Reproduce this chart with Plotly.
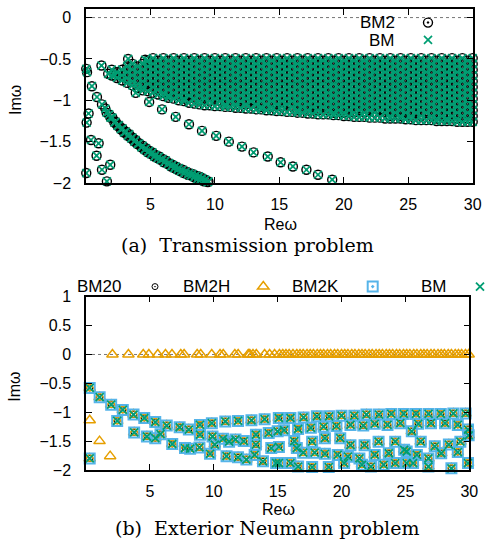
import plotly.graph_objects as go

# ================= (a) Transmission problem =================
lead_x = [0.02, 0.08, 0.20, 0.05, 0.46, 0.85, 0.39, 0.98, 0.82, 1.24, 1.88, 1.62, 0.02, 1.20, 1.72, 2.24, 3.27, 4.59]
lead_y = [-0.62, -0.66, -1.16, -1.27, -0.83, -0.96, -1.48, -1.52, -1.67, -1.84, -1.78, -1.98, -1.88, -0.58, -0.68, -0.70, -0.50, -0.51]

diag_x = [1.24, 1.5, 1.8, 2.05, 2.3, 2.55, 2.83, 3.1, 3.35, 3.6, 3.85, 4.12, 4.4, 4.65, 4.9, 5.15, 5.4,
          5.67, 5.95, 6.2, 6.45, 6.7, 6.95, 7.2, 7.5, 7.75, 8.0, 8.25, 8.5, 8.76, 9.0, 9.25, 9.5]
diag_y = [-1.05, -1.10, -1.17, -1.21, -1.26, -1.30, -1.34, -1.38, -1.41, -1.45, -1.48, -1.52, -1.55, -1.58,
          -1.61, -1.63, -1.66, -1.68, -1.71, -1.73, -1.76, -1.78, -1.80, -1.82, -1.84, -1.86, -1.88, -1.89,
          -1.91, -1.92, -1.94, -1.96, -1.98]
diag2_x = [1.6, 1.9, 2.2, 2.45, 2.7, 2.95, 3.25, 3.5, 3.75, 4.0, 4.3, 4.55, 4.8, 5.05, 5.3, 5.55, 5.8, 6.05,
           6.35, 6.6, 6.85, 7.1, 7.35, 7.6, 7.9, 8.15, 8.4, 8.65, 8.9, 9.15, 9.45]
diag2_y = [-1.15, -1.21, -1.27, -1.31, -1.35, -1.39, -1.43, -1.46, -1.50, -1.53, -1.57, -1.60, -1.63, -1.65,
           -1.68, -1.70, -1.72, -1.75, -1.77, -1.80, -1.82, -1.84, -1.86, -1.88, -1.90, -1.91, -1.93, -1.95,
           -1.96, -1.98, -1.99]

slow_x = [3.86, 4.9, 5.9, 6.96, 7.99, 9.0, 10.1, 11.08, 12.1, 13.0, 14.1, 15.1, 16.05, 17.1, 18.0, 19.1]
slow_y = [-0.91, -1.02, -1.11, -1.20, -1.29, -1.37, -1.43, -1.50, -1.56, -1.63, -1.68, -1.75, -1.80, -1.84, -1.90, -1.96]

# dense band of resonances, listed column by column (Re value, then its Im values)
band_x = [2.0, 2.4, 2.8, 3.2, 3.6, 4.0, 4.4, 4.8, 5.2, 5.6, 6.0, 6.4, 6.8, 7.2, 7.6, 8.0, 8.4, 8.8, 9.2, 9.6,
          10.0, 10.4, 10.8, 11.2, 11.6, 12.0, 12.4, 12.8, 13.2, 13.6, 14.0, 14.4, 14.8, 15.2, 15.6, 16.0,
          16.4, 16.8, 17.2, 17.6, 18.0, 18.4, 18.8, 19.2, 19.6, 20.0, 20.4, 20.8, 21.2, 21.6, 22.0, 22.4,
          22.8, 23.2, 23.6, 24.0, 24.4, 24.8, 25.2, 25.6, 26.0, 26.4, 26.8, 27.2, 27.6, 28.0, 28.4, 28.8,
          29.2, 29.6, 30.0]
band_y = [
    [-0.63, -0.70],
    [-0.66, -0.73],
    [-0.63, -0.70, -0.76],
    [-0.59, -0.66, -0.73, -0.79],
    [-0.56, -0.63, -0.70, -0.77, -0.82],
    [-0.59, -0.66, -0.73, -0.80, -0.85],
    [-0.56, -0.63, -0.70, -0.77, -0.84, -0.88],
    [-0.52, -0.59, -0.66, -0.73, -0.80, -0.89],
    [-0.49, -0.56, -0.63, -0.70, -0.77, -0.84, -0.91],
    [-0.52, -0.59, -0.66, -0.73, -0.80, -0.87, -0.93],
    [-0.49, -0.56, -0.63, -0.70, -0.77, -0.84, -0.91, -0.95],
    [-0.52, -0.59, -0.66, -0.73, -0.80, -0.87, -0.94, -0.97],
    [-0.49, -0.56, -0.63, -0.70, -0.77, -0.84, -0.91, -0.98],
    [-0.52, -0.59, -0.66, -0.73, -0.80, -0.87, -0.94, -1.00],
    [-0.49, -0.56, -0.63, -0.70, -0.77, -0.84, -0.91, -0.98, -1.01],
    [-0.52, -0.59, -0.66, -0.73, -0.80, -0.87, -0.94, -1.03],
    [-0.49, -0.56, -0.63, -0.70, -0.77, -0.84, -0.91, -0.98, -1.04],
    [-0.52, -0.59, -0.66, -0.73, -0.80, -0.87, -0.94, -1.01, -1.05],
    [-0.49, -0.56, -0.63, -0.70, -0.77, -0.84, -0.91, -0.98, -1.06],
    [-0.52, -0.59, -0.66, -0.73, -0.80, -0.87, -0.94, -1.01, -1.06],
    [-0.49, -0.56, -0.63, -0.70, -0.77, -0.84, -0.91, -0.98, -1.07],
    [-0.52, -0.59, -0.66, -0.73, -0.80, -0.87, -0.94, -1.01, -1.07],
    [-0.49, -0.56, -0.63, -0.70, -0.77, -0.84, -0.91, -0.98, -1.05, -1.08],
    [-0.52, -0.59, -0.66, -0.73, -0.80, -0.87, -0.94, -1.01, -1.08],
    [-0.49, -0.56, -0.63, -0.70, -0.77, -0.84, -0.91, -0.98, -1.05, -1.09],
    [-0.52, -0.59, -0.66, -0.73, -0.80, -0.87, -0.94, -1.01, -1.09],
    [-0.49, -0.56, -0.63, -0.70, -0.77, -0.84, -0.91, -0.98, -1.05, -1.10],
    [-0.52, -0.59, -0.66, -0.73, -0.80, -0.87, -0.94, -1.01, -1.10],
    [-0.49, -0.56, -0.63, -0.70, -0.77, -0.84, -0.91, -0.98, -1.05, -1.11],
    [-0.52, -0.59, -0.66, -0.73, -0.80, -0.87, -0.94, -1.01, -1.08, -1.11],
    [-0.49, -0.56, -0.63, -0.70, -0.77, -0.84, -0.91, -0.98, -1.05, -1.12],
    [-0.52, -0.59, -0.66, -0.73, -0.80, -0.87, -0.94, -1.01, -1.08, -1.12],
    [-0.49, -0.56, -0.63, -0.70, -0.77, -0.84, -0.91, -0.98, -1.05, -1.13],
    [-0.52, -0.59, -0.66, -0.73, -0.80, -0.87, -0.94, -1.01, -1.08, -1.13],
    [-0.49, -0.56, -0.63, -0.70, -0.77, -0.84, -0.91, -0.98, -1.05, -1.14],
    [-0.52, -0.59, -0.66, -0.73, -0.80, -0.87, -0.94, -1.01, -1.08, -1.14],
    [-0.49, -0.56, -0.63, -0.70, -0.77, -0.84, -0.91, -0.98, -1.05, -1.12, -1.15],
    [-0.52, -0.59, -0.66, -0.73, -0.80, -0.87, -0.94, -1.01, -1.08, -1.15],
    [-0.49, -0.56, -0.63, -0.70, -0.77, -0.84, -0.91, -0.98, -1.05, -1.12, -1.16],
    [-0.52, -0.59, -0.66, -0.73, -0.80, -0.87, -0.94, -1.01, -1.08, -1.16],
    [-0.49, -0.56, -0.63, -0.70, -0.77, -0.84, -0.91, -0.98, -1.05, -1.12, -1.17],
    [-0.52, -0.59, -0.66, -0.73, -0.80, -0.87, -0.94, -1.01, -1.08, -1.17],
    [-0.49, -0.56, -0.63, -0.70, -0.77, -0.84, -0.91, -0.98, -1.05, -1.12, -1.17],
    [-0.52, -0.59, -0.66, -0.73, -0.80, -0.87, -0.94, -1.01, -1.08, -1.15, -1.18],
    [-0.49, -0.56, -0.63, -0.70, -0.77, -0.84, -0.91, -0.98, -1.05, -1.12, -1.18],
    [-0.52, -0.59, -0.66, -0.73, -0.80, -0.87, -0.94, -1.01, -1.08, -1.15, -1.19],
    [-0.49, -0.56, -0.63, -0.70, -0.77, -0.84, -0.91, -0.98, -1.05, -1.12, -1.19],
    [-0.52, -0.59, -0.66, -0.73, -0.80, -0.87, -0.94, -1.01, -1.08, -1.15, -1.20],
    [-0.49, -0.56, -0.63, -0.70, -0.77, -0.84, -0.91, -0.98, -1.05, -1.12, -1.20],
    [-0.52, -0.59, -0.66, -0.73, -0.80, -0.87, -0.94, -1.01, -1.08, -1.15, -1.20],
    [-0.49, -0.56, -0.63, -0.70, -0.77, -0.84, -0.91, -0.98, -1.05, -1.12, -1.21],
    [-0.52, -0.59, -0.66, -0.73, -0.80, -0.87, -0.94, -1.01, -1.08, -1.15, -1.21],
    [-0.49, -0.56, -0.63, -0.70, -0.77, -0.84, -0.91, -0.98, -1.05, -1.12, -1.21],
    [-0.52, -0.59, -0.66, -0.73, -0.80, -0.87, -0.94, -1.01, -1.08, -1.15, -1.22],
    [-0.49, -0.56, -0.63, -0.70, -0.77, -0.84, -0.91, -0.98, -1.05, -1.12, -1.19, -1.22],
    [-0.52, -0.59, -0.66, -0.73, -0.80, -0.87, -0.94, -1.01, -1.08, -1.15, -1.22],
    [-0.49, -0.56, -0.63, -0.70, -0.77, -0.84, -0.91, -0.98, -1.05, -1.12, -1.19, -1.22],
    [-0.52, -0.59, -0.66, -0.73, -0.80, -0.87, -0.94, -1.01, -1.08, -1.15, -1.23],
    [-0.49, -0.56, -0.63, -0.70, -0.77, -0.84, -0.91, -0.98, -1.05, -1.12, -1.19, -1.23],
    [-0.52, -0.59, -0.66, -0.73, -0.80, -0.87, -0.94, -1.01, -1.08, -1.15, -1.24],
    [-0.49, -0.56, -0.63, -0.70, -0.77, -0.84, -0.91, -0.98, -1.05, -1.12, -1.19, -1.24],
    [-0.52, -0.59, -0.66, -0.73, -0.80, -0.87, -0.94, -1.01, -1.08, -1.15, -1.24],
    [-0.49, -0.56, -0.63, -0.70, -0.77, -0.84, -0.91, -0.98, -1.05, -1.12, -1.19, -1.24],
    [-0.52, -0.59, -0.66, -0.73, -0.80, -0.87, -0.94, -1.01, -1.08, -1.15, -1.22, -1.25],
    [-0.49, -0.56, -0.63, -0.70, -0.77, -0.84, -0.91, -0.98, -1.05, -1.12, -1.19, -1.25],
    [-0.52, -0.59, -0.66, -0.73, -0.80, -0.87, -0.94, -1.01, -1.08, -1.15, -1.22, -1.25],
    [-0.49, -0.56, -0.63, -0.70, -0.77, -0.84, -0.91, -0.98, -1.05, -1.12, -1.19, -1.25],
    [-0.52, -0.59, -0.66, -0.73, -0.80, -0.87, -0.94, -1.01, -1.08, -1.15, -1.22, -1.26],
    [-0.49, -0.56, -0.63, -0.70, -0.77, -0.84, -0.91, -0.98, -1.05, -1.12, -1.19, -1.26],
    [-0.52, -0.59, -0.66, -0.73, -0.80, -0.87, -0.94, -1.01, -1.08, -1.15, -1.22, -1.26],
    [-0.49, -0.56, -0.63, -0.70, -0.77, -0.84, -0.91, -0.98, -1.05, -1.12, -1.19, -1.26],
]

# ================= (b) Exterior Neumann problem =================
up_x = [0.29, 1.07, 1.97, 2.88, 3.72, 4.56, 5.42, 6.32, 7.33, 8.05, 8.92, 9.85, 10.9, 11.9, 12.95, 13.98,
        15.09, 16.0, 17.03, 18.07, 19.03, 20.0, 21.0, 21.95, 22.93, 23.89, 24.87, 25.83, 26.81, 27.77, 28.75, 29.71]
up_y = [-0.58, -0.74, -0.87, -0.96, -1.04, -1.10, -1.17, -1.23, -1.26, -1.30, -1.22, -1.19, -1.16, -1.15, -1.14,
        -1.12, -1.10, -1.10, -1.09, -1.07, -1.07, -1.06, -1.06, -1.04, -1.04, -1.03, -1.03, -1.03, -1.03, -1.03,
        -1.02, -1.02]
low_x = [0.29, 2.44, 3.77, 4.77, 5.42, 5.83, 6.75, 7.75, 8.15, 8.88, 8.92, 9.71, 9.9, 10.08, 10.72, 11.0, 11.2,
         11.7, 11.9, 12.35, 12.55, 13.2, 13.3, 13.3, 13.85, 14.3, 14.5, 14.88, 15.0, 16.3]
low_y = [-1.80, -1.15, -1.35, -1.42, -1.45, -1.38, -1.55, -1.62, -1.63, -1.61, -1.39, -1.72, -1.42, -1.56, -1.46,
         -1.76, -1.51, -1.47, -1.78, -1.50, -1.82, -1.74, -1.39, -1.56, -1.85, -1.36, -1.62, -1.88, -1.33, -1.50]
r2_x = [15.5, 16.6, 17.6, 18.6, 19.6, 20.7, 21.7, 22.6, 23.6, 24.6, 25.5, 26.0, 27.0, 28.1, 29.1, 29.9]
r2_y = [-1.31, -1.29, -1.27, -1.25, -1.24, -1.22, -1.23, -1.20, -1.22, -1.19, -1.33, -1.20, -1.19, -1.19, -1.22, -1.30]
r3_x = [17.7, 18.7, 19.9, 20.7, 21.8, 22.9, 24.2, 25.1, 26.2, 27.3, 28.4, 29.3, 29.95]
r3_y = [-1.51, -1.45, -1.45, -1.57, -1.57, -1.51, -1.51, -1.68, -1.51, -1.59, -1.56, -1.51, -1.40]
r4_x = [15.1, 16.5, 17.0, 17.9, 18.7, 19.7, 20.5, 21.4, 22.6, 23.7, 24.9, 25.9, 26.8, 27.8, 29.1]
r4_y = [-1.60, -1.62, -1.70, -1.70, -1.72, -1.74, -1.77, -1.80, -1.74, -1.71, -1.65, -1.74, -1.80, -1.71, -1.69]
r5_x = [15.1, 16.0, 16.6, 17.7, 19.0, 20.2, 21.6, 22.3, 23.3, 24.2, 25.1, 25.6, 26.8, 28.6, 29.9]
r5_y = [-1.88, -1.88, -1.94, -1.95, -1.95, -1.88, -1.91, -1.94, -1.91, -1.88, -1.88, -1.88, -1.94, -1.97, -1.88]

# BM2H only: spurious real resonances and three extra points
real_x = [2.07, 3.32, 4.48, 4.92, 5.62, 6.22, 6.73, 7.42, 7.68, 8.7, 8.98, 9.84, 10.49, 10.74, 11.65, 11.91,
          12.7, 12.82, 13.07, 13.33, 13.98, 14.37, 14.76, 15.14, 15.4, 15.65, 15.9, 16.2, 16.5, 16.75, 17.0,
          17.3, 17.55, 17.8, 18.1, 18.35, 18.6, 18.9, 19.15, 19.45, 19.7, 20.0, 20.25, 20.5, 20.8, 21.05, 21.35,
          21.6, 21.85, 22.15, 22.4, 22.7, 22.95, 23.2, 23.5, 23.75, 24.0, 24.3, 24.55, 24.85, 25.1, 25.35,
          25.65, 25.9, 26.2, 26.45, 26.7, 27.0, 27.25, 27.55, 27.8, 28.05, 28.35, 28.6, 28.9, 29.15, 29.4,
          29.7, 29.95]
real_y = [0.0 for _ in real_x]
spur_x = [0.29, 1.06, 1.89]
spur_y = [-1.14, -1.50, -1.76]

xticks = [5, 10, 15, 20, 25, 30]
yticks_a = [0, -0.5, -1, -1.5, -2]
yticks_a_txt = ["0", "\u22120.5", "\u22121", "\u22121.5", "\u22122"]
yticks_b = [1, 0.5, 0, -0.5, -1, -1.5, -2]
yticks_b_txt = ["1", "0.5", "0", "\u22120.5", "\u22121", "\u22121.5", "\u22122"]

GREEN = "#009e73"
ORANGE = "#e69f00"
SKY = "#56b4e9"

# ---- assemble ----
top_x = lead_x + diag_x + diag2_x + slow_x
top_y = lead_y + diag_y + diag2_y + slow_y
for bx, col in zip(band_x, band_y):
    for by in col:
        top_x.append(bx)
        top_y.append(by)

bot_x = up_x + low_x + r2_x + r3_x + r4_x + r5_x
bot_y = up_y + low_y + r2_y + r3_y + r4_y + r5_y

W, H = 486, 541
def px(v):
    return v / W
def py(v):
    return 1 - v / H

fig = go.Figure()
fig.add_trace(go.Scatter(x=top_x, y=top_y, mode="markers", name=" ", legend="legend",
                         marker=dict(symbol="circle-open-dot", size=9, color="black",
                                     line=dict(width=1.4, color="black")),
                         cliponaxis=False, xaxis="x", yaxis="y"))
fig.add_trace(go.Scatter(x=top_x, y=top_y, mode="markers", name=" ", legend="legend2",
                         marker=dict(symbol="x-thin-open", size=8, color=GREEN,
                                     line=dict(width=1.7, color=GREEN)),
                         cliponaxis=False, xaxis="x", yaxis="y"))

fig.add_trace(go.Scatter(x=bot_x, y=bot_y, mode="markers", name=" ", legend="legend3",
                         marker=dict(symbol="circle-open-dot", size=6, color="black",
                                     line=dict(width=1.0, color="black")),
                         cliponaxis=False, xaxis="x2", yaxis="y2"))
fig.add_trace(go.Scatter(x=real_x + spur_x + bot_x, y=real_y + spur_y + bot_y, mode="markers", name=" ",
                         legend="legend4",
                         marker=dict(symbol="triangle-up-open", size=10, color=ORANGE,
                                     line=dict(width=1.5, color=ORANGE)),
                         cliponaxis=False, xaxis="x2", yaxis="y2"))
fig.add_trace(go.Scatter(x=bot_x, y=bot_y, mode="markers", name=" ", legend="legend5",
                         marker=dict(symbol="square-open-dot", size=10, color=SKY,
                                     line=dict(width=2, color=SKY)),
                         cliponaxis=False, xaxis="x2", yaxis="y2"))
fig.add_trace(go.Scatter(x=bot_x, y=bot_y, mode="markers", name=" ", legend="legend6",
                         marker=dict(symbol="x-thin-open", size=8, color=GREEN,
                                     line=dict(width=1.8, color=GREEN)),
                         cliponaxis=False, xaxis="x2", yaxis="y2"))

tickfont = dict(family="Liberation Sans, Arial, sans-serif", size=16, color="black")
axis_common = dict(showline=True, linewidth=1.5, linecolor="black", mirror="allticks",
                   ticks="inside", ticklen=6, tickwidth=1, tickcolor="black",
                   showgrid=False, zeroline=False, tickfont=tickfont)

fig.update_layout(
    width=W, height=H,
    margin=dict(l=0, r=0, t=0, b=0, autoexpand=False),
    paper_bgcolor="white", plot_bgcolor="white",
    xaxis=dict(domain=[px(86), px(472.7)], range=[0, 30], tickvals=xticks, anchor="y",
               ticklabelstandoff=6, **axis_common),
    yaxis=dict(domain=[py(183), py(9.3)], range=[-2, 0.1], tickvals=yticks_a, ticktext=yticks_a_txt,
               anchor="x", ticklabelstandoff=10, **axis_common),
    xaxis2=dict(domain=[px(86), px(469.3)], range=[0, 30], tickvals=xticks, anchor="y2",
                ticklabelstandoff=6, **axis_common),
    yaxis2=dict(domain=[py(470), py(296.7)], range=[-2, 1], tickvals=yticks_b, ticktext=yticks_b_txt,
                anchor="x2", ticklabelstandoff=10, **axis_common),
    showlegend=True,
)

leg_font = dict(family="Liberation Sans, Arial, sans-serif", size=16, color="black")
def leg(xc, yc):
    return dict(x=px(xc - 20), y=py(yc), xanchor="left", yanchor="middle", bgcolor="rgba(0,0,0,0)",
                borderwidth=0, font=leg_font, itemclick=False, itemdoubleclick=False)

fig.update_layout(legend=leg(428, 22.7), legend2=leg(428, 40),
                  legend3=leg(155, 286.7), legend4=leg(263.3, 286.7),
                  legend5=leg(372.7, 286.7), legend6=leg(480, 286.7))

# dotted zero lines
fig.add_shape(type="line", xref="x domain", yref="y", x0=0, x1=1, y0=0, y1=0,
              line=dict(color="#777777", width=1, dash="dot"), layer="below")
fig.add_shape(type="line", xref="x2 domain", yref="y2", x0=0, x1=1, y0=0, y1=0,
              line=dict(color="#777777", width=1, dash="dot"), layer="below")

sans = dict(family="Liberation Sans, Arial, sans-serif", size=16, color="black")
serif = dict(family="DejaVu Serif, serif", size=19, color="black")
def ann(text, xc, yc, font, xanchor="center", angle=0):
    fig.add_annotation(text=text, x=px(xc), y=py(yc), xref="paper", yref="paper", showarrow=False,
                       xanchor=xanchor, yanchor="middle", font=font, textangle=angle, borderpad=0)

ann("Re\u03c9", 280, 224, sans)
ann("Re\u03c9", 278, 509.5, sans)
ann("Im\u03c9", 15, 100, sans, angle=-90)
ann("Im\u03c9", 15, 386.7, sans, angle=-90)
ann("(a)  Transmission problem", 247.3, 244.5, serif)
ann("(b)  Exterior Neumann problem", 267.4, 528, serif)
legtxt = dict(family="Liberation Sans, Arial, sans-serif", size=17, color="black")
ann("BM2", 396, 22.7, legtxt, xanchor="right")
ann("BM", 396, 40, legtxt, xanchor="right")
ann("BM20", 122, 286.7, legtxt, xanchor="right")
ann("BM2H", 231, 286.7, legtxt, xanchor="right")
ann("BM2K", 340, 286.7, legtxt, xanchor="right")
ann("BM", 447.5, 286.7, legtxt, xanchor="right")

fig.write_html("out.html", config={"displayModeBar": False},
               post_script="document.body.style.margin='0px';document.body.style.overflow='hidden';")
